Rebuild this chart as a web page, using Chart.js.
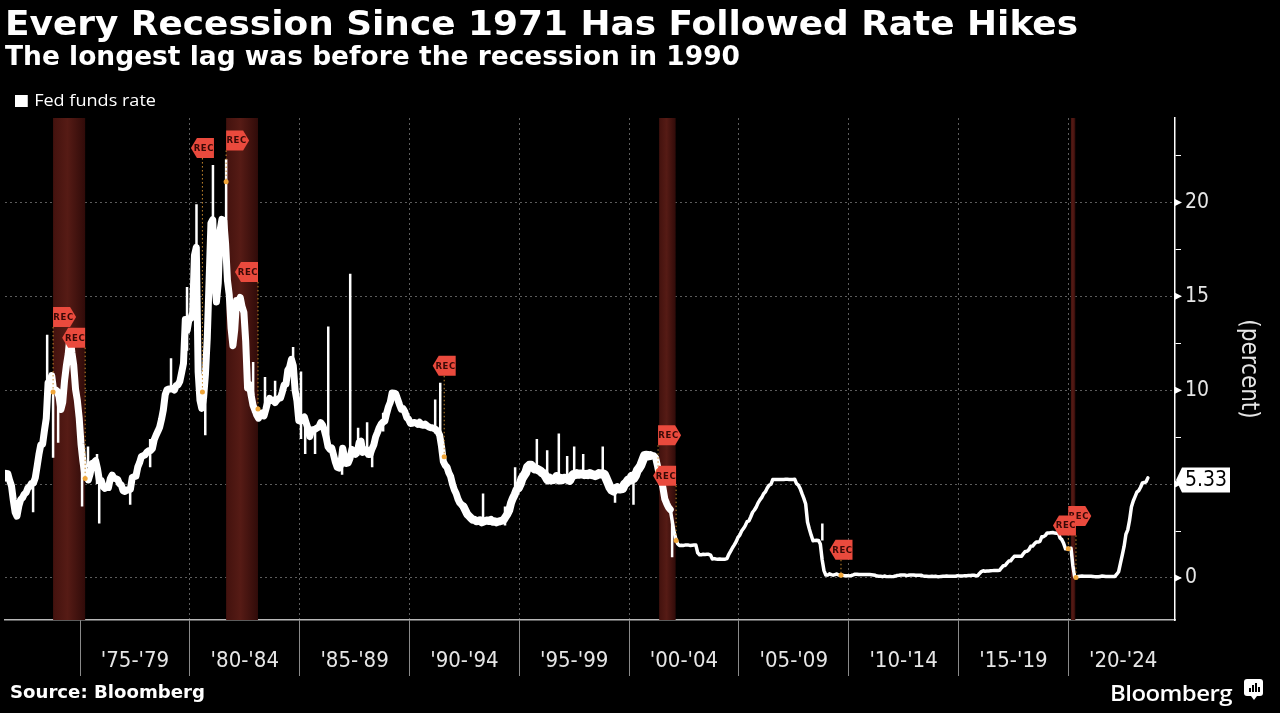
<!DOCTYPE html>
<html>
<head>
<meta charset="utf-8">
<script src="https://cdn.jsdelivr.net/npm/chart.js@4.4.1/dist/chart.umd.min.js"></script>
<style>
  html, body { margin: 0; padding: 0; background: #000; }
  body { width: 1280px; height: 713px; position: relative; overflow: hidden; color: #fff; }
  #wrap { position: absolute; left: 0; top: 0; width: 1280px; height: 713px; }
  .txt { position: absolute; white-space: nowrap; transform-origin: 0 0; line-height: 1; }
  #title { left: 5px; top: 3px; font: bold 34px "DejaVu Sans", sans-serif; }
  #subtitle { left: 5px; top: 40px; font: bold 27px "DejaVu Sans", sans-serif; }
  #legend { left: 15px; top: 88px; font: 17px "Open Sans", sans-serif; }
  #legend i { display: inline-block; width: 12px; height: 12px; background: #fff; margin-right: 6px; vertical-align: -1px; }
  #source { left: 10px; top: 681px; font: bold 18px "DejaVu Sans Condensed", "DejaVu Sans", sans-serif; }
  #brand { left: 1110px; top: 677px; font: 600 22px "Open Sans", sans-serif; letter-spacing: -0.5px; }
  #brandIcon { position: absolute; left: 1244px; top: 679px; width: 19px; height: 17px; background: #fff; border-radius: 3px; }
  #brandIcon b { position: absolute; bottom: 4px; width: 2px; background: #000; }
  #brandIcon:after { content: ""; position: absolute; left: 7px; bottom: -4px; border-left: 3px solid transparent; border-right: 3px solid transparent; border-top: 4px solid #fff; }
</style>
</head>
<body>
<div id="wrap"><canvas id="rateChart"></canvas></div>
<div class="txt" id="title">Every Recession Since 1971 Has Followed Rate Hikes</div>
<div class="txt" id="subtitle">The longest lag was before the recession in 1990</div>
<div class="txt" id="legend"><i></i>Fed funds rate</div>
<div class="txt" id="source">Source: Bloomberg</div>
<div class="txt" id="brand">Bloomberg</div>
<div id="brandIcon"><b style="left:5px;height:4px"></b><b style="left:8px;height:7px"></b><b style="left:11px;height:9px"></b><b style="left:14px;height:5px"></b></div>
<script>
// monthly fed funds rate, Jul 1971 .. Aug 2023
const rates1970s = [
  5.31, 5.57, 5.55, 5.20, 4.91, 4.14,
  3.50, 3.29, 3.83, 4.17, 4.27, 4.46, 4.55, 4.80, 4.87, 5.04, 5.06, 5.33,
  5.94, 6.58, 7.09, 7.12, 7.84, 8.49, 10.40, 10.50, 10.78, 10.01, 10.03, 9.95,
  9.65, 8.97, 9.35, 10.51, 11.31, 11.93, 12.92, 12.01, 11.34, 10.06, 9.45, 8.53,
  7.13, 6.24, 5.54, 5.49, 5.22, 5.55, 6.10, 6.14, 6.24, 5.82, 5.22, 5.20,
  4.87, 4.77, 4.84, 4.82, 5.29, 5.48, 5.31, 5.29, 5.25, 5.02, 4.95, 4.65,
  4.61, 4.68, 4.69, 4.73, 5.35, 5.39, 5.42, 5.90, 6.14, 6.47, 6.51, 6.56,
  6.70, 6.78, 6.79, 6.89, 7.36, 7.60, 7.81, 8.04, 8.45, 8.96, 9.76, 10.03,
  10.07, 10.06, 10.09, 10.01, 10.24, 10.29, 10.47, 10.94, 11.43, 13.77, 13.18, 13.78
];
const rates1980s = [
  13.82, 14.13, 17.19, 17.61, 10.98, 9.47, 9.03, 9.61, 10.87, 12.81, 15.85, 18.90,
  19.08, 15.93, 14.70, 15.72, 18.52, 19.10, 19.04, 17.82, 15.87, 15.08, 13.31, 12.37,
  13.22, 14.78, 14.68, 14.94, 14.45, 14.15, 12.59, 10.12, 10.31, 9.71, 9.20, 8.95,
  8.68, 8.51, 8.77, 8.80, 8.63, 8.98, 9.37, 9.56, 9.45, 9.48, 9.34, 9.47,
  9.56, 9.59, 9.91, 10.29, 10.32, 11.06, 11.23, 11.64, 11.30, 9.99, 9.43, 8.38,
  8.35, 8.50, 8.58, 8.27, 7.97, 7.53, 7.88, 7.90, 7.92, 7.99, 8.05, 8.27,
  8.14, 7.86, 7.48, 6.99, 6.85, 6.92, 6.56, 6.17, 5.89, 5.85, 6.04, 6.91,
  6.43, 6.10, 6.13, 6.37, 6.85, 6.73, 6.58, 6.73, 7.22, 7.29, 6.69, 6.77,
  6.83, 6.58, 6.58, 6.87, 7.09, 7.51, 7.75, 8.01, 8.19, 8.30, 8.35, 8.76,
  9.12, 9.36, 9.85, 9.84, 9.81, 9.53, 9.24, 8.99, 9.02, 8.84, 8.55, 8.45
];
const rates1990s = [
  8.23, 8.24, 8.28, 8.26, 8.18, 8.29, 8.15, 8.13, 8.20, 8.11, 8.05, 8.00,
  8.00, 7.95, 7.90, 7.80, 7.60, 7.00, 6.20, 6.00, 5.90, 5.60, 5.40, 5.00,
  4.70, 4.50, 4.20, 4.00, 3.90, 3.80, 3.60, 3.40, 3.30, 3.20, 3.10, 3.10,
  3.02, 3.03, 3.07, 2.96, 3.00, 3.04, 3.06, 3.03, 3.09, 2.99, 3.02, 2.96,
  3.00, 3.02, 3.05, 3.10, 3.25, 3.40, 3.60, 4.00, 4.25, 4.45, 4.70, 4.80,
  5.00, 5.30, 5.45, 5.60, 5.90, 6.00, 6.00, 5.90, 5.80, 5.80, 5.75, 5.70,
  5.60, 5.56, 5.40, 5.22, 5.31, 5.22, 5.24, 5.27, 5.40, 5.22, 5.30, 5.24,
  5.31, 5.29, 5.25, 5.19, 5.39, 5.51, 5.50, 5.56, 5.52, 5.54, 5.54, 5.50,
  5.52, 5.50, 5.56, 5.51, 5.49, 5.45, 5.49, 5.56, 5.54, 5.55, 5.51, 5.30,
  5.07, 4.83, 4.68, 4.63, 4.76, 4.81, 4.74, 4.74, 4.76, 4.99, 5.07, 5.22
];
const rates2000s = [
  5.20, 5.42, 5.30, 5.45, 5.73, 5.85, 6.02, 6.27, 6.53, 6.54, 6.50, 6.52,
  6.51, 6.51, 6.40, 5.98, 5.49, 5.31, 4.80, 4.21, 3.97, 3.77, 3.65, 3.07,
  2.49, 2.09, 1.82, 1.73, 1.74, 1.73, 1.75, 1.75, 1.75, 1.73, 1.74, 1.75,
  1.75, 1.34, 1.24, 1.24, 1.26, 1.25, 1.26, 1.26, 1.22, 1.01, 1.03, 1.01,
  1.00, 1.01, 1.00, 1.00, 1.00, 1.03, 1.26, 1.43, 1.61, 1.76, 1.93, 2.16,
  2.28, 2.50, 2.63, 2.79, 3.00, 3.04, 3.26, 3.50, 3.62, 3.78, 4.00, 4.16,
  4.29, 4.49, 4.59, 4.79, 4.94, 4.99, 5.24, 5.25, 5.25, 5.25, 5.25, 5.24,
  5.25, 5.26, 5.26, 5.25, 5.25, 5.25, 5.26, 5.02, 4.94, 4.76, 4.49, 4.24,
  3.94, 2.98, 2.61, 2.28, 1.98, 2.00, 2.01, 2.00, 1.81, 0.97, 0.39, 0.16,
  0.15, 0.22, 0.18, 0.15, 0.18, 0.21, 0.16, 0.16, 0.15, 0.12, 0.12, 0.12
];
const rates2010s = [
  0.11, 0.13, 0.16, 0.20, 0.20, 0.18, 0.18, 0.19, 0.19, 0.19, 0.19, 0.18,
  0.17, 0.16, 0.14, 0.10, 0.09, 0.09, 0.07, 0.10, 0.08, 0.07, 0.08, 0.07,
  0.08, 0.10, 0.13, 0.14, 0.16, 0.16, 0.16, 0.13, 0.14, 0.16, 0.16, 0.16,
  0.14, 0.15, 0.14, 0.15, 0.11, 0.09, 0.09, 0.08, 0.08, 0.09, 0.08, 0.09,
  0.07, 0.07, 0.08, 0.09, 0.09, 0.10, 0.09, 0.09, 0.09, 0.09, 0.09, 0.12,
  0.11, 0.11, 0.11, 0.12, 0.12, 0.13, 0.13, 0.14, 0.14, 0.12, 0.12, 0.24,
  0.34, 0.38, 0.36, 0.37, 0.37, 0.38, 0.39, 0.40, 0.40, 0.40, 0.41, 0.54,
  0.65, 0.66, 0.79, 0.90, 0.91, 1.04, 1.15, 1.16, 1.15, 1.15, 1.16, 1.30,
  1.41, 1.42, 1.51, 1.69, 1.70, 1.82, 1.91, 1.91, 1.95, 2.19, 2.20, 2.27,
  2.40, 2.40, 2.41, 2.42, 2.39, 2.38, 2.40, 2.13, 2.04, 1.83, 1.55, 1.55
];
const rates2020s = [
  1.55, 1.58, 0.65, 0.05, 0.05, 0.08, 0.09, 0.10, 0.09, 0.09, 0.09, 0.09,
  0.09, 0.08, 0.07, 0.07, 0.06, 0.08, 0.10, 0.09, 0.08, 0.08, 0.08, 0.08,
  0.08, 0.08, 0.20, 0.33, 0.77, 1.21, 1.68, 2.33, 2.56, 3.08, 3.78, 4.10,
  4.33, 4.57, 4.65, 4.83, 5.06, 5.08, 5.12, 5.33
];
const firstMonth = 1971 + 6 / 12; // July 1971

// daily extremes that stick out of the monthly line
const spikeDates = [
  1972.86, 1973.50, 1973.77, 1974.00, 1975.09, 1975.36, 1975.77, 1975.87, 1977.28, 1978.19,
  1979.14, 1979.87, 1980.30, 1980.70, 1981.05, 1981.65, 1982.88, 1983.42, 1983.88, 1984.70,
  1985.06, 1985.25, 1985.70, 1986.30, 1986.93, 1987.30, 1987.66, 1988.07, 1988.30, 1988.80,
  1991.17, 1991.40, 1993.35, 1994.35, 1994.81, 1995.80, 1996.27, 1996.80, 1997.18, 1997.50,
  1997.91, 1998.80, 1999.36, 2000.20, 2001.96, 2008.80
];
const spikeLows = [
  3.5, 10.4, 6.4, 7.2, 3.8, 5.9, 5.0, 2.9, 3.9, 5.9,
  10.1, 12.1, 17.0, 7.6, 18.5, 17.5, 8.8, 8.8, 9.3, 11.0,
  7.4, 6.6, 6.6, 7.0, 5.5, 6.3, 6.5, 6.8, 5.9, 7.8,
  7.7, 7.6, 2.9, 2.8, 4.6, 5.8, 5.2, 5.3, 5.3, 5.5,
  5.5, 5.5, 4.0, 3.9, 1.1, 2.0
];
const spikeHighs = [
  5.0, 12.96, 10.0, 9.6, 6.3, 7.0, 6.6, 5.4, 4.8, 7.4,
  11.7, 15.5, 19.9, 9.5, 22.0, 22.3, 11.5, 10.7, 10.5, 12.3,
  11.0, 8.5, 8.0, 13.4, 7.0, 16.2, 8.0, 8.3, 6.6, 8.8,
  9.5, 10.4, 4.5, 3.8, 5.9, 7.4, 6.8, 7.7, 6.5, 7.0,
  6.6, 7.0, 4.8, 5.4, 3.0, 2.9
];

// shaded recessions
const recessionStarts = [1973.77, 1981.65, 2001.37, 2020.12];
const recessionEnds   = [1975.23, 1983.10, 2002.12, 2020.32];

// REC tags: anchor date, value on the line, level of the tag, which side it hangs
const tagDates  = [1973.77, 1975.23, 1980.57, 1981.65, 1983.10, 1991.58, 2001.32, 2002.14, 2009.65, 2020.00, 2020.35];
const tagValues = [9.9, 5.3, 9.9, 21.1, 9.0, 6.45, 5.7, 2.0, 0.15, 1.55, 0.02];
const tagLevels = [13.9, 12.8, 22.9, 23.3, 16.3, 11.3, 7.6, 5.45, 1.5, 3.3, 2.8];
const tagSides  = ["start", "end", "mid", "start", "end", "mid", "start", "end", "mid", "start", "end"];

const xTickValues = [1975, 1977.5, 1980, 1982.5, 1985, 1987.5, 1990, 1992.5, 1995, 1997.5, 2000, 2002.5, 2005, 2007.5, 2010, 2012.5, 2015, 2017.5, 2020, 2022.5];
const xTickLabels = ["", "'75-'79", "", "'80-'84", "", "'85-'89", "", "'90-'94", "", "'95-'99", "", "'00-'04", "", "'05-'09", "", "'10-'14", "", "'15-'19", "", "'20-'24"];
const yTickValues = [0, 2.5, 5, 7.5, 10, 12.5, 15, 17.5, 20, 22.5];
const lastLabel = "5.33";

const AXIS_FONT = '"DejaVu Sans Condensed", "Liberation Sans Narrow", "DejaVu Sans", sans-serif';
const GRID_COLOR = "#5c5c5c";

function buildSeries() {
  const all = rates1970s.concat(rates1980s, rates1990s, rates2000s, rates2010s, rates2020s);
  return all.map((v, i) => ({ x: firstMonth + (i + 0.5) / 12, y: v }));
}

function buildSpikes() {
  const pts = [];
  spikeDates.forEach((d, i) => {
    pts.push({ x: d, y: spikeLows[i] });
    pts.push({ x: d, y: spikeHighs[i] });
    pts.push({ x: d, y: null });
  });
  return pts;
}

// the daily series is noisy before 2002, so the monthly line is drawn heavier there
function segmentWidth(c) {
  const x = c.p1.parsed.x;
  if (x >= 2001.9) return 3.5;
  if (x >= 1995 && x < 2001) return 9;
  if (x >= 1992.5 && x < 1995) return 8;
  return 7;
}

const isBoundary = (v) => Math.abs(v % 5) < 1e-6;

const recessionBands = {
  id: "recessionBands",
  beforeDatasetsDraw(chart) {
    const { ctx, chartArea, scales } = chart;
    ctx.save();
    recessionStarts.forEach((start, i) => {
      const x1 = scales.x.getPixelForValue(start);
      const x2 = scales.x.getPixelForValue(recessionEnds[i]);
      const g = ctx.createLinearGradient(x1, 0, x2, 0);
      g.addColorStop(0, "#43120e");
      g.addColorStop(0.45, "#561b15");
      g.addColorStop(1, "#300b09");
      ctx.fillStyle = g;
      ctx.fillRect(x1, chartArea.top, x2 - x1, chartArea.bottom - chartArea.top);
    });
    ctx.restore();
  }
};

function tagPath(ctx, left, top, w, h, pointLeft) {
  const tip = 6;
  ctx.beginPath();
  if (pointLeft) {
    ctx.moveTo(left, top + h / 2);
    ctx.lineTo(left + tip, top);
    ctx.lineTo(left + w, top);
    ctx.lineTo(left + w, top + h);
    ctx.lineTo(left + tip, top + h);
  } else {
    ctx.moveTo(left, top);
    ctx.lineTo(left + w - tip, top);
    ctx.lineTo(left + w, top + h / 2);
    ctx.lineTo(left + w - tip, top + h);
    ctx.lineTo(left, top + h);
  }
  ctx.closePath();
}

const recTags = {
  id: "recTags",
  afterDatasetsDraw(chart) {
    const { ctx, scales } = chart;
    const w = 23, h = 20;
    ctx.save();
    tagDates.forEach((d, i) => {
      const px = scales.x.getPixelForValue(d);
      const ty = scales.y.getPixelForValue(tagLevels[i]);
      const dy = scales.y.getPixelForValue(tagValues[i]);
      const side = tagSides[i];
      let left = px;
      if (side === "end") left = px - w;
      if (side === "mid") left = px - w / 2;

      // dotted leader down to the line
      ctx.strokeStyle = "#c98a2e";
      ctx.lineWidth = 1;
      ctx.setLineDash([1.5, 2.5]);
      ctx.beginPath();
      ctx.moveTo(px, ty + h / 2);
      ctx.lineTo(px, dy);
      ctx.stroke();
      ctx.setLineDash([]);

      ctx.fillStyle = "#f0a63a";
      ctx.beginPath();
      ctx.arc(px, dy, 2.5, 0, Math.PI * 2);
      ctx.fill();

      tagPath(ctx, left, ty - h / 2, w, h, side !== "start");
      ctx.fillStyle = "#ea4a3d";
      ctx.fill();

      ctx.fillStyle = "#3a0906";
      ctx.font = 'bold 9.5px "DejaVu Sans Condensed", "DejaVu Sans", sans-serif';
      ctx.textAlign = "center";
      ctx.textBaseline = "middle";
      ctx.letterSpacing = "0.6px";
      const cx = side === "start" ? left + w / 2 - 1 : left + w / 2 + 1.5;
      ctx.fillText("REC", cx, ty + 0.5);
      ctx.letterSpacing = "0px";
    });
    ctx.restore();
  }
};

const axisExtras = {
  id: "axisExtras",
  afterDraw(chart) {
    const { ctx, scales } = chart;
    const ax = scales.y.left;
    ctx.save();
    // little arrow heads on the major ticks
    ctx.fillStyle = "#fff";
    yTickValues.filter(isBoundary).forEach((v) => {
      const y = scales.y.getPixelForValue(v);
      ctx.beginPath();
      ctx.moveTo(ax, y - 3.5);
      ctx.lineTo(ax + 7, y);
      ctx.lineTo(ax, y + 3.5);
      ctx.closePath();
      ctx.fill();
    });
    // last value badge
    const last = rates2020s[rates2020s.length - 1];
    const y = scales.y.getPixelForValue(last);
    const bx = ax + 7, bw = 48, bh = 25;
    ctx.beginPath();
    ctx.moveTo(ax + 1, y + 2);
    ctx.lineTo(bx, y - bh / 2 + 2);
    ctx.lineTo(bx + bw, y - bh / 2 + 2);
    ctx.lineTo(bx + bw, y + bh / 2 + 2);
    ctx.lineTo(bx, y + bh / 2 + 2);
    ctx.closePath();
    ctx.fill();
    ctx.fillStyle = "#000";
    ctx.font = "21px " + AXIS_FONT;
    ctx.textAlign = "left";
    ctx.textBaseline = "middle";
    ctx.fillText(lastLabel, bx + 3, y + 3);
    ctx.restore();
  }
};

function renderRateChart() {
  const canvas = document.getElementById("rateChart");
  new Chart(canvas, {
    type: "line",
    data: {
      datasets: [
        {
          label: "Fed funds rate",
          data: buildSeries(),
          borderColor: "#ffffff",
          borderWidth: 3,
          borderJoinStyle: "round",
          borderCapStyle: "round",
          segment: { borderWidth: segmentWidth },
          pointRadius: 0,
          tension: 0
        },
        {
          label: "Daily extremes",
          data: buildSpikes(),
          borderColor: "#ffffff",
          borderWidth: 2.5,
          pointRadius: 0,
          spanGaps: false,
          tension: 0
        }
      ]
    },
    options: {
      responsive: true,
      maintainAspectRatio: false,
      animation: false,
      devicePixelRatio: 1,
      layout: { padding: { top: 118, left: 5, right: 0, bottom: 0 } },
      plugins: { legend: { display: false }, tooltip: { enabled: false } },
      scales: {
        x: {
          type: "linear",
          min: 1971.58,
          max: 2024.86,
          offset: false,
          afterBuildTicks: (s) => { s.ticks = xTickValues.map((v) => ({ value: v })); },
          afterFit: (s) => { s.height = 93; },
          grid: {
            offset: false,
            color: (c) => (c.tick && isBoundary(c.tick.value) ? GRID_COLOR : "rgba(0,0,0,0)"),
            tickColor: (c) => (c.tick && isBoundary(c.tick.value) ? "#8a8a8a" : "rgba(0,0,0,0)"),
            tickLength: 56,
            lineWidth: 1
          },
          border: { display: true, color: "#b8b8b8", width: 1.5, dash: [2, 3] },
          ticks: {
            autoSkip: false,
            maxRotation: 0,
            padding: -28,
            color: "#e6e6e6",
            font: { family: AXIS_FONT, size: 22 },
            callback: (v, i) => xTickLabels[i]
          }
        },
        y: {
          position: "right",
          min: -2.24,
          max: 24.5,
          afterBuildTicks: (s) => { s.ticks = yTickValues.map((v) => ({ value: v })); },
          afterFit: (s) => { s.width = 105; },
          grid: {
            color: (c) => (c.tick && isBoundary(c.tick.value) ? GRID_COLOR : "rgba(0,0,0,0)"),
            tickColor: "#ffffff",
            tickLength: 6,
            lineWidth: 1
          },
          border: { display: true, color: "#ffffff", width: 1.5, dash: [2, 3] },
          ticks: {
            padding: 4,
            color: "#e6e6e6",
            font: { family: AXIS_FONT, size: 21 },
            callback: (v) => (isBoundary(v) ? String(v) : "")
          },
          title: {
            display: true,
            text: "(percent)",
            color: "#e6e6e6",
            font: { family: AXIS_FONT, size: 24 },
            padding: { top: 17, bottom: 0 }
          }
        }
      }
    },
    plugins: [recessionBands, recTags, axisExtras]
  });
}

function fitText(id, width) {
  const el = document.getElementById(id);
  const w = el.getBoundingClientRect().width;
  if (w > 0) el.style.transform = "scaleX(" + (width / w) + ")";
}

renderRateChart();
fitText("title", 1073);
fitText("subtitle", 735);
fitText("legend", 141);
fitText("source", 195);
fitText("brand", 122);
</script>
</body>
</html>
